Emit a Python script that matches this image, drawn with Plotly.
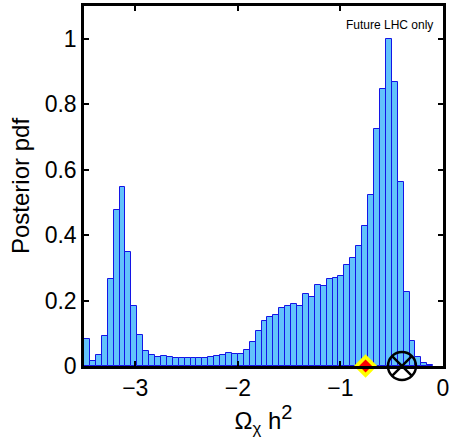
import plotly.graph_objects as go

# Histogram of log10(Omega_chi h^2) posterior
BIN_START = -3.5
BIN_WIDTH = 0.0577
heights = [0.082, 0.014, 0.033, 0.091, 0.266, 0.476, 0.548, 0.349, 0.184, 0.095,
           0.047, 0.033, 0.028, 0.030, 0.026, 0.025, 0.025, 0.025, 0.025, 0.025,
           0.025, 0.027, 0.032, 0.034, 0.039, 0.037, 0.038, 0.049, 0.074, 0.106,
           0.139, 0.151, 0.155, 0.176, 0.182, 0.188, 0.184, 0.221, 0.212, 0.247,
           0.243, 0.265, 0.269, 0.276, 0.308, 0.329, 0.368, 0.429, 0.524, 0.723,
           0.847, 1.000, 0.869, 0.561, 0.225, 0.075, 0.026, 0.008, 0.002]
centers = [BIN_START + (i + 0.5) * BIN_WIDTH for i in range(len(heights))]

best_fit_x = [-0.755]
best_fit_y = [0.0]
true_x = [-0.40]
true_y = [0.0]

x_ticks = [-3, -2, -1, 0]
x_tick_text = ["\u22123", "\u22122", "\u22121", "0"]
y_ticks = [0, 0.2, 0.4, 0.6, 0.8, 1.0]
y_tick_text = ["0", "0.2", "0.4", "0.6", "0.8", "1"]

FONT = "Liberation Sans, Arial, sans-serif"

fig = go.Figure()
fig.add_trace(go.Bar(
    x=centers, y=heights, width=BIN_WIDTH,
    marker=dict(color="#62c2fb", line=dict(color="#1414e6", width=1)),
    showlegend=False, hoverinfo="skip",
))
fig.add_trace(go.Scatter(
    x=best_fit_x, y=best_fit_y, mode="markers",
    marker=dict(symbol="diamond", size=18, color="#ffff00", line=dict(width=0)),
    cliponaxis=False, showlegend=False,
))
fig.add_trace(go.Scatter(
    x=best_fit_x, y=best_fit_y, mode="markers",
    marker=dict(symbol="diamond", size=10, color="#ff0000", line=dict(width=0)),
    cliponaxis=False, showlegend=False,
))
fig.add_trace(go.Scatter(
    x=true_x, y=true_y, mode="markers",
    marker=dict(symbol="circle-x-open", size=28, color="black", line=dict(width=2.5, color="black")),
    cliponaxis=False, showlegend=False,
))

axis_common = dict(
    showline=True, linecolor="black", linewidth=2.5, mirror="ticks",
    ticks="inside", ticklen=5, tickwidth=1.5, tickcolor="black",
    showgrid=False, zeroline=False, automargin=False,
    tickfont=dict(family=FONT, size=23, color="black"),
)

fig.update_layout(
    width=453, height=444,
    margin=dict(l=84, r=10, t=6, b=78),
    paper_bgcolor="white", plot_bgcolor="white",
    bargap=0,
    font=dict(family=FONT, color="black"),
    xaxis=dict(range=[-3.5, 0], tickvals=x_ticks, ticktext=x_tick_text,
               title=dict(text="\u03a9<sub>\u03c7</sub> h<sup><span style='font-size:20px'>2</span></sup>",
                          font=dict(family=FONT, size=24), standoff=4),
               **axis_common),
    yaxis=dict(range=[0, 1.1], tickvals=y_ticks, ticktext=y_tick_text,
               **axis_common),
    annotations=[
        dict(text="Future LHC only", xref="paper", yref="paper",
             x=1, y=1, xanchor="right", yanchor="top", xshift=-8, yshift=-10,
             showarrow=False, font=dict(family=FONT, size=12, color="black")),
        dict(text="Posterior pdf", xref="paper", yref="paper",
             x=0, y=0.5, xanchor="center", yanchor="middle", xshift=-64,
             textangle=-90, showarrow=False,
             font=dict(family=FONT, size=24, color="black")),
    ],
)

fig.write_html("out.html", config={"displayModeBar": False},
               post_script="document.body.style.margin='0';document.body.style.overflow='hidden';")
